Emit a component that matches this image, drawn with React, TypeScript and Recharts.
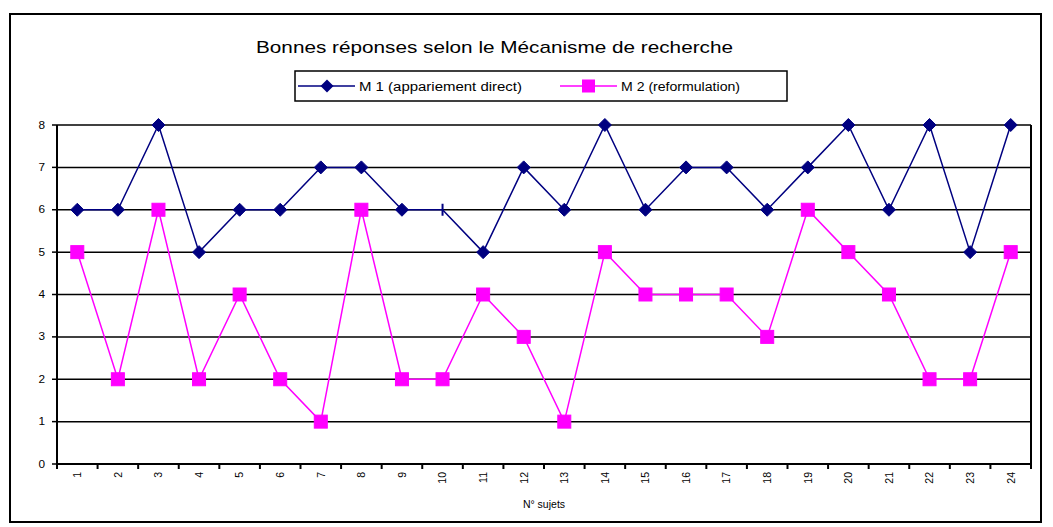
import React from 'react';
import { LineChart, Line, XAxis, YAxis, CartesianGrid, Legend, Label } from 'recharts';

const categories = ['1','2','3','4','5','6','7','8','9','10','11','12','13','14','15','16','17','18','19','20','21','22','23','24'];
const m1Values = [6,6,8,5,6,6,7,7,6,6,5,7,6,8,6,7,7,6,7,8,6,8,5,8];
const m2Values = [5,2,6,2,4,2,1,6,2,2,4,3,1,5,4,4,4,3,6,5,4,2,2,5];
const yTicks = [0,1,2,3,4,5,6,7,8];
const seriesNames = ['M 1 (appariement direct)', 'M 2 (reformulation)'];
const title = 'Bonnes réponses selon le Mécanisme de recherche';
const xTitle = 'N° sujets';

const data = categories.map((c, i) => ({ cat: c, m1: m1Values[i], m2: m2Values[i] }));

const NAVY = '#000080';
const MAGENTA = '#FF00FF';
const FONT = '"Liberation Sans", Arial, sans-serif';

const W = 1045;
const H = 519;
const M = { top: 117, right: 14, left: 0, bottom: 0 };
const Y_W = 49;
const X_H = 63;
const PLOT_W = W - M.left - M.right - Y_W - 8;
const BAND = PLOT_W / categories.length;

const DiamondDot = (props: any) => {
  const { cx, cy, index } = props;
  if (cx == null || cy == null) return null;
  if (index === 9) {
    return <line key={`d${index}`} x1={cx} x2={cx} y1={cy - 6} y2={cy + 6} stroke={NAVY} strokeWidth={2} />;
  }
  const r = 6.5;
  return (
    <polygon
      key={`d${index}`}
      points={`${cx},${cy - r} ${cx + r},${cy} ${cx},${cy + r} ${cx - r},${cy}`}
      fill={NAVY}
      stroke={NAVY}
    />
  );
};

const SquareDot = (props: any) => {
  const { cx, cy, index } = props;
  if (cx == null || cy == null) return null;
  const s = 6.5;
  return <rect key={`s${index}`} x={cx - s} y={cy - s} width={2 * s} height={2 * s} fill={MAGENTA} stroke={MAGENTA} />;
};

const XTick = (props: any) => {
  const { x, y, payload, index } = props;
  const last = index === categories.length - 1;
  return (
    <g>
      <line x1={x - BAND / 2} x2={x - BAND / 2} y1={y} y2={y + 5} stroke="#000" strokeWidth={2} />
      {last && <line x1={x + BAND / 2} x2={x + BAND / 2} y1={y} y2={y + 5} stroke="#000" strokeWidth={2} />}
      <g transform={`translate(${x},${y})`}>
        <text transform="rotate(-90)" x={-8} y={0} dy={3.8} textAnchor="end" fontSize={10.5} fontFamily={FONT} fill="#000">
          {payload.value}
        </text>
      </g>
    </g>
  );
};

const LegendBox = () => (
  <svg width={494} height={32} style={{ display: 'block' }}>
    <rect x={1} y={1} width={492} height={30} fill="#fff" stroke="#000" strokeWidth={1.5} />
    <line x1={4} x2={61} y1={16} y2={16} stroke={NAVY} strokeWidth={1.5} />
    <polygon points="33,9.5 39.5,16 33,22.5 26.5,16" fill={NAVY} />
    <text x={65} y={20.5} fontSize={12.5} fontFamily={FONT} fill="#000" textLength={163} lengthAdjust="spacingAndGlyphs">
      {seriesNames[0]}
    </text>
    <line x1={266} x2={323} y1={16} y2={16} stroke={MAGENTA} strokeWidth={1.5} />
    <rect x={288} y={9.5} width={13} height={13} fill={MAGENTA} />
    <text x={327} y={20.5} fontSize={12.5} fontFamily={FONT} fill="#000" textLength={119} lengthAdjust="spacingAndGlyphs">
      {seriesNames[1]}
    </text>
  </svg>
);

const YTick = (props: any) => {
  const { x, y, payload } = props;
  return (
    <text x={x} y={y} dy={3.6} textAnchor="end" fontSize={10} fontFamily={FONT} fill="#000" transform={`translate(${x},0) scale(1.18,1) translate(${-x},0)`}>
      {payload.value}
    </text>
  );
};

export default function App() {
  return (
    <div style={{ position: 'relative', width: W, height: H, fontFamily: FONT }}>
      <div
        style={{
          position: 'absolute',
          left: 1,
          top: 5,
          width: 1029,
          height: 506,
          border: '2px solid #000',
        }}
      />
      <svg width={W} height={60} style={{ position: 'absolute', left: 0, top: 0 }}>
        <text x={248} y={45} fontSize={17} fontFamily={FONT} fill="#000" textLength={477} lengthAdjust="spacingAndGlyphs">
          {title}
        </text>
      </svg>
      <div style={{ position: 'absolute', left: 0, top: 0 }}>
        <LineChart width={W} height={H} data={data} margin={M}>
          <CartesianGrid horizontal vertical={false} stroke="#000" strokeWidth={1.5} />
          <XAxis
            dataKey="cat"
            scale="band"
            interval={0}
            height={X_H}
            tickLine={false}
            tickSize={0}
            tickMargin={0}
            axisLine={{ stroke: '#000', strokeWidth: 2 }}
            tick={<XTick />}
          >
            <Label value={xTitle} position="insideBottom" offset={19} fontSize={10.5} fontFamily={FONT} fill="#000" />
          </XAxis>
          <YAxis
            domain={[0, 8]}
            ticks={yTicks}
            interval={0}
            width={Y_W}
            tickSize={5}
            tickMargin={7}
            axisLine={{ stroke: '#000', strokeWidth: 2 }}
            tickLine={{ stroke: '#000', strokeWidth: 1.5 }}
            tick={<YTick />}
          />
          <YAxis
            yAxisId="r"
            orientation="right"
            domain={[0, 8]}
            width={8}
            tick={false}
            tickLine={false}
            axisLine={{ stroke: '#000', strokeWidth: 2 }}
          />
          <Legend
            layout="horizontal"
            verticalAlign="middle"
            align="center"
            wrapperStyle={{ position: 'absolute', left: 286, top: 62, width: 494, height: 32 }}
            content={() => <LegendBox />}
          />
          <Line
            type="linear"
            dataKey="m1"
            name={seriesNames[0]}
            stroke={NAVY}
            strokeWidth={1.5}
            dot={<DiamondDot />}
            activeDot={false}
            isAnimationActive={false}
          />
          <Line
            type="linear"
            dataKey="m2"
            name={seriesNames[1]}
            stroke={MAGENTA}
            strokeWidth={1.5}
            dot={<SquareDot />}
            activeDot={false}
            isAnimationActive={false}
          />
        </LineChart>
      </div>
    </div>
  );
}
